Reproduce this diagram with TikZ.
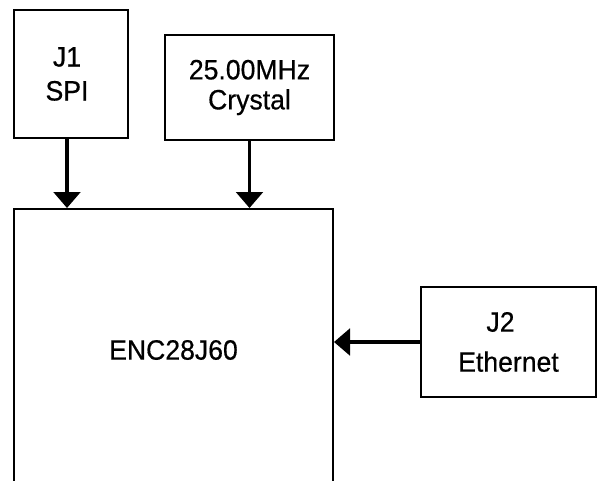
\documentclass[tikz,border=0pt]{standalone}
\usepackage{fontspec}
\setmainfont{Liberation Sans}
\newfontfamily\boxfont{Liberation Sans}[FakeBold=0.5,FakeStretch=0.95]
\usetikzlibrary{arrows.meta}
\begin{document}
\begin{tikzpicture}[x=0.75pt,y=-0.75pt,
  box/.style={draw=black,line width=1.5pt,inner sep=0pt,align=center,
    font=\boxfont\fontsize{21}{24}\selectfont},
  arr/.style={line width=2.4pt,-{Triangle[length=12pt,width=20pt]}}]
\useasboundingbox (0,0) rectangle (597,480);
\clip (0,0) rectangle (597,480);
\fill[white] (0,0) rectangle (597,480);
\node[box,minimum width=114*0.75pt,minimum height=128*0.75pt,
  font=\boxfont\fontsize{21}{25.5}\selectfont] (j1) at (71,74) {J1\hspace*{6pt}\\SPI\hspace*{6pt}};
\node[box,minimum width=169*0.75pt,minimum height=105*0.75pt,
  font=\boxfont\fontsize{21}{22.5}\selectfont] (xtal) at (249.5,87.5) {25.00MHz\\Crystal};
\node[box,minimum width=319*0.75pt,minimum height=282*0.75pt] (enc) at (173.5,350) {ENC28J60};
\node[box,minimum width=175*0.75pt,minimum height=110*0.75pt,
  font=\boxfont\fontsize{21}{30}\selectfont] (j2) at (508.5,342) {J2\hspace*{12pt}\\Ethernet};
\draw[arr] ([xshift=-3pt]j1.south) -- ([xshift=-3pt]j1.south |- enc.north);
\draw[arr] (xtal.south) -- (xtal.south |- enc.north);
\draw[arr] (j2.west) -- (j2.west -| enc.east);
\end{tikzpicture}
\end{document}
